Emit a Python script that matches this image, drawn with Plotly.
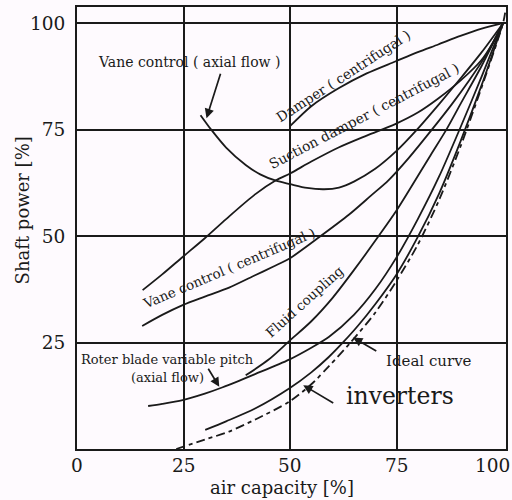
import plotly.graph_objects as go

# Shaft power [%] against air capacity [%] for each fan control method
damper_x = [50, 55, 61.4, 68, 74.7, 80, 84.8, 90, 95, 100]
damper_y = [75.8, 80.5, 84.7, 88.2, 91, 93.2, 95, 97, 98.7, 100]

suction_x = [15.4, 20, 24.8, 30, 35, 41.8, 46.7, 50, 55, 61.4, 68, 74.7, 80, 84.8, 90, 94.9, 97.5, 100]
suction_y = [37.3, 41, 45.1, 49.5, 54, 59.8, 63.1, 64.7, 67.5, 70.8, 73.6, 76.3, 79, 82.3, 86.5, 91.3, 95.2, 100]

vane_axial_x = [29, 31.5, 35, 39.6, 43, 46.7, 50, 54, 58, 61.5, 65, 70, 75, 79.8, 85, 90, 95, 100]
vane_axial_y = [78.4, 75, 70.8, 66.7, 64.5, 63, 62.2, 61.3, 61, 61.4, 62.8, 65.8, 70, 75, 81, 87, 93.2, 100]

vane_cent_x = [15.3, 20, 24.8, 30, 35.7, 41.8, 46, 50, 57.2, 63.8, 69, 73.1, 78, 83.3, 88, 92, 96, 100]
vane_cent_y = [28.9, 31.5, 33.8, 35.8, 37.9, 40.8, 42.8, 44.8, 50, 55, 59.5, 63.1, 68.5, 75, 81, 86.5, 92.5, 100]

fluid_x = [39.6, 45, 50, 55, 60, 65, 70.8, 75, 79.4, 83, 86.7, 90, 95, 100]
fluid_y = [17.3, 21, 25.5, 30, 35.5, 42, 50, 56, 63.1, 69, 75, 81, 90, 100]

rotor_x = [16.7, 20, 24.8, 30, 34.2, 41.8, 49.8, 55, 59.1, 65, 70, 75, 80, 85, 90, 95, 100]
rotor_y = [10.1, 10.6, 11.5, 13, 14.5, 17.6, 21, 23.8, 26.3, 31.5, 37.5, 45, 54, 64, 75.5, 87.5, 100]

inverter_x = [30.1, 35, 41.8, 49.8, 55, 59.1, 62.6, 66, 70, 75, 80, 85, 90, 95, 100]
inverter_y = [4.5, 6.5, 9.5, 14.2, 18, 21.6, 25.2, 29, 34, 41, 49.8, 60, 72.2, 85.5, 100]

ideal_x = [23.3, 30, 35.7, 42, 49.8, 55, 59.1, 64.2, 70, 75, 80, 85, 90, 95, 100, 100.5]
ideal_y = [0, 2.2, 4.1, 7, 11.1, 15.2, 19.4, 25, 32, 39.5, 48, 58.5, 71, 85, 100, 102.5]

x_ticks = [0, 25, 50, 75, 100]
x_ticklabels = ["0", "25", "50", "75", "100"]
y_ticks = [25, 50, 75, 100]
y_ticklabels = ["25", "50", "75", "100"]

SERIF = "DejaVu Serif"
INK = "#1a1a1a"
BG = "#fefafe"

fig = go.Figure()

curves = [
    ("Damper (centrifugal)", damper_x, damper_y, "solid"),
    ("Suction damper (centrifugal)", suction_x, suction_y, "solid"),
    ("Vane control (axial flow)", vane_axial_x, vane_axial_y, "solid"),
    ("Vane control (centrifugal)", vane_cent_x, vane_cent_y, "solid"),
    ("Fluid coupling", fluid_x, fluid_y, "solid"),
    ("Roter blade variable pitch", rotor_x, rotor_y, "solid"),
    ("inverters", inverter_x, inverter_y, "solid"),
    ("Ideal curve", ideal_x, ideal_y, "9px,4px,4px,4px"),
]
for name, xs, ys, dash in curves:
    fig.add_trace(go.Scatter(
        x=xs, y=ys, name=name, mode="lines",
        line=dict(color=INK, width=1.8, dash=dash, shape="spline", smoothing=0.8),
        showlegend=False, hoverinfo="skip",
    ))

# curve labels
labels = [
    ("Vane control ( axial flow )", 26.4, 90.8, 0, 14),
    ("Damper ( centrifugal )", 62.5, 87.6, -33, 13.8),
    ("Suction damper ( centrifugal )", 67.3, 78.2, -27.5, 13.8),
    ("Vane control ( centrifugal )", 35.7, 42.5, -23, 13.5),
    ("Fluid coupling", 53.5, 34.7, -42, 13.5),
    ("Roter blade variable pitch", 21.3, 21.1, 0, 13),
    ("(axial flow)", 21.3, 16.7, 0, 13),
    ("Ideal curve", 82.7, 20.7, 0, 15),
    ("inverters", 75.9, 12.4, 0, 23.5),
]
for text, x, y, ang, size in labels:
    fig.add_annotation(
        x=x, y=y, xref="x", yref="y", text=text, showarrow=False,
        textangle=ang, xanchor="center", yanchor="middle",
        font=dict(family=SERIF, size=size, color=INK),
    )

# pointer arrows: (head x, head y, tail x, tail y)
arrows = [
    (30.4, 77.7, 33.8, 88.5),
    (33.4, 14.6, 30.6, 19.2),
    (64.8, 26.2, 70.6, 22.8),
    (53.1, 15.0, 60.5, 10.6),
]
for hx, hy, tx, ty in arrows:
    fig.add_annotation(
        x=hx, y=hy, ax=tx, ay=ty, xref="x", yref="y", axref="x", ayref="y",
        text="", showarrow=True, arrowhead=2, arrowsize=1.1, arrowwidth=1.7,
        arrowcolor=INK,
    )

# x tick labels
for v, t in zip(x_ticks, x_ticklabels):
    last = v == x_ticks[-1]
    fig.add_annotation(
        x=v, y=0, xref="x", yref="paper", text=t, showarrow=False,
        xanchor="center", yanchor="middle", yshift=-16, xshift=-11 if last else 0,
        font=dict(family=SERIF, size=18.5, color=INK),
    )

# axis titles
fig.add_annotation(
    x=0.477, y=-0.088, xref="paper", yref="paper", text="air capacity [%]",
    showarrow=False, xanchor="center", yanchor="middle",
    font=dict(family=SERIF, size=18, color=INK),
)
fig.add_annotation(
    x=-0.128, y=0.54, xref="paper", yref="paper", text="Shaft power [%]",
    showarrow=False, textangle=-90, xanchor="center", yanchor="middle",
    font=dict(family=SERIF, size=18, color=INK),
)

fig.update_xaxes(
    range=[0, 100.7], tickvals=[25, 50, 75], showticklabels=False,
    showgrid=True, gridcolor=INK, gridwidth=2, zeroline=False,
    showline=True, linecolor=INK, linewidth=2, mirror=True, ticks="",
)
fig.update_yaxes(
    range=[0, 103.8], tickvals=y_ticks, ticktext=y_ticklabels,
    showgrid=True, gridcolor=INK, gridwidth=2, zeroline=False,
    showline=True, linecolor=INK, linewidth=2, mirror=True, ticks="",
    ticklabelstandoff=6, tickfont=dict(family=SERIF, size=18.5, color=INK),
)
fig.update_layout(
    width=512, height=500,
    margin=dict(l=77, r=4, t=7, b=51),
    paper_bgcolor=BG, plot_bgcolor=BG,
)

fig.write_html("out.html")
